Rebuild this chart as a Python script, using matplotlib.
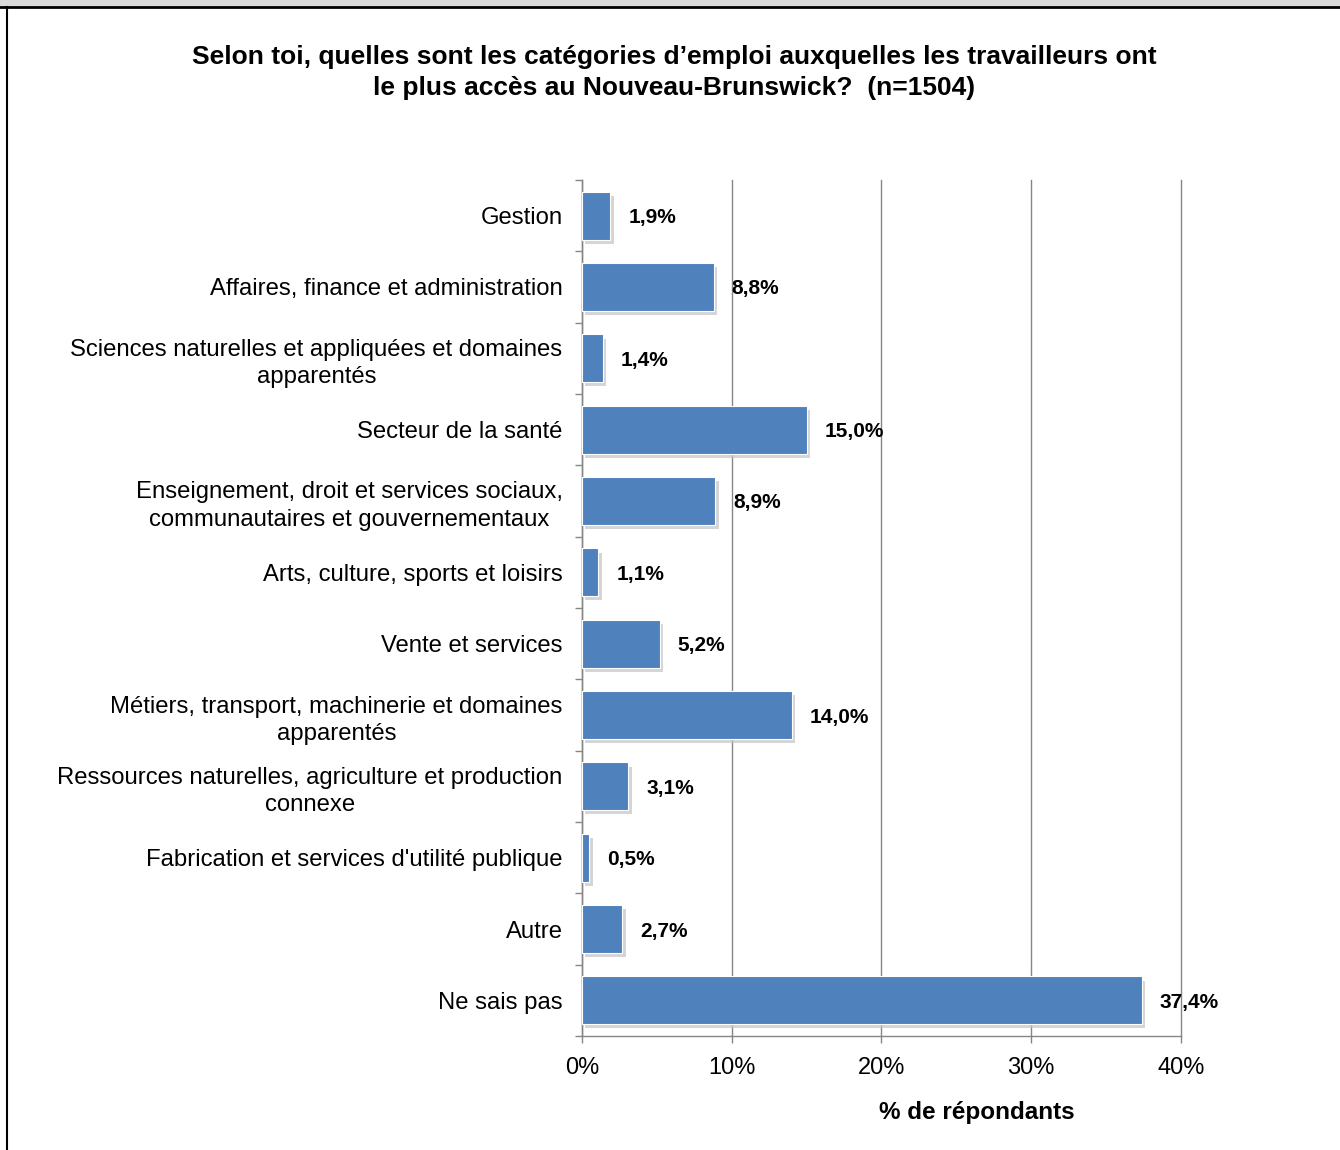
import matplotlib.pyplot as plt
import matplotlib.patheffects as pe
import numpy as np

plt.rcParams['font.family'] = ['Liberation Sans', 'DejaVu Sans']

categories = [
    "Gestion",
    "Affaires, finance et administration",
    "Sciences naturelles et appliquées et domaines\napparentés",
    "Secteur de la santé",
    "Enseignement, droit et services sociaux,\ncommunautaires et gouvernementaux",
    "Arts, culture, sports et loisirs",
    "Vente et services",
    "Métiers, transport, machinerie et domaines\napparentés",
    "Ressources naturelles, agriculture et production\nconnexe",
    "Fabrication et services d'utilité publique",
    "Autre",
    "Ne sais pas",
]
values = [1.9, 8.8, 1.4, 15.0, 8.9, 1.1, 5.2, 14.0, 3.1, 0.5, 2.7, 37.4]
xticks = [0, 10, 20, 30, 40]

title = ("Selon toi, quelles sont les catégories d\u2019emploi auxquelles les travailleurs ont\n"
         "le plus accès au Nouveau-Brunswick?  (n=1504)")

fig = plt.figure(figsize=(13.4, 11.5), dpi=100)
ax = fig.add_axes([0.4343, 0.0991, 0.447, 0.7444])

y = np.arange(len(categories))
bars = ax.barh(y, values, height=0.67, color='#4F81BD', edgecolor='white',
               linewidth=0.8, zorder=3)
for b in bars:
    b.set_path_effects([pe.SimplePatchShadow(offset=(2.5, -3), shadow_rgbFace='#c4c4c4', alpha=0.7),
                        pe.Normal()])

for yi, v in zip(y, values):
    ax.text(v + 1.2, yi, f"{v:.1f}%".replace('.', ','), va='center_baseline', ha='left',
            fontsize=15, fontweight='bold', zorder=4)

ax.set_ylim(len(categories) - 0.5, -0.5)
ax.set_xlim(0, 40)
ax.set_yticks(y)
ax.set_yticklabels(categories, fontsize=17.2, linespacing=1.3, multialignment='center')
ax.set_yticks(np.arange(-0.5, len(categories), 1), minor=True)
ax.tick_params(axis='y', which='major', length=0, pad=14)
ax.tick_params(axis='y', which='minor', length=5, color='#868686', width=1)
ax.set_xticks(xticks)
ax.set_xticklabels([f"{t}%" for t in xticks], fontsize=17)
ax.tick_params(axis='x', length=5, color='#868686', width=1, pad=10)
ax.grid(axis='x', color='#868686', linewidth=1, zorder=0)
for gl in ax.get_xgridlines():
    gl.set_clip_on(False)
for s in ['top', 'right']:
    ax.spines[s].set_visible(False)
for s in ['left', 'bottom']:
    ax.spines[s].set_color('#868686')
    ax.spines[s].set_linewidth(1)

fig.text(0.503, 0.937, title, ha='center', va='center', fontsize=19,
         fontweight='bold', linespacing=1.35)
fig.text(0.729, 0.033, "% de répondants", ha='center', va='center',
         fontsize=17.5, fontweight='bold')

# top band and left border
fig.patches.append(plt.Rectangle((0, 0.9942), 1, 0.0058, transform=fig.transFigure,
                                 facecolor='#d9d9d9', edgecolor='none'))
fig.add_artist(plt.Line2D([0, 1], [0.9935, 0.9935], transform=fig.transFigure,
                          color='black', linewidth=2))
fig.add_artist(plt.Line2D([0.0052, 0.0052], [0, 0.9935], transform=fig.transFigure,
                          color='black', linewidth=1.5))

fig.savefig('out.png', dpi=100)
